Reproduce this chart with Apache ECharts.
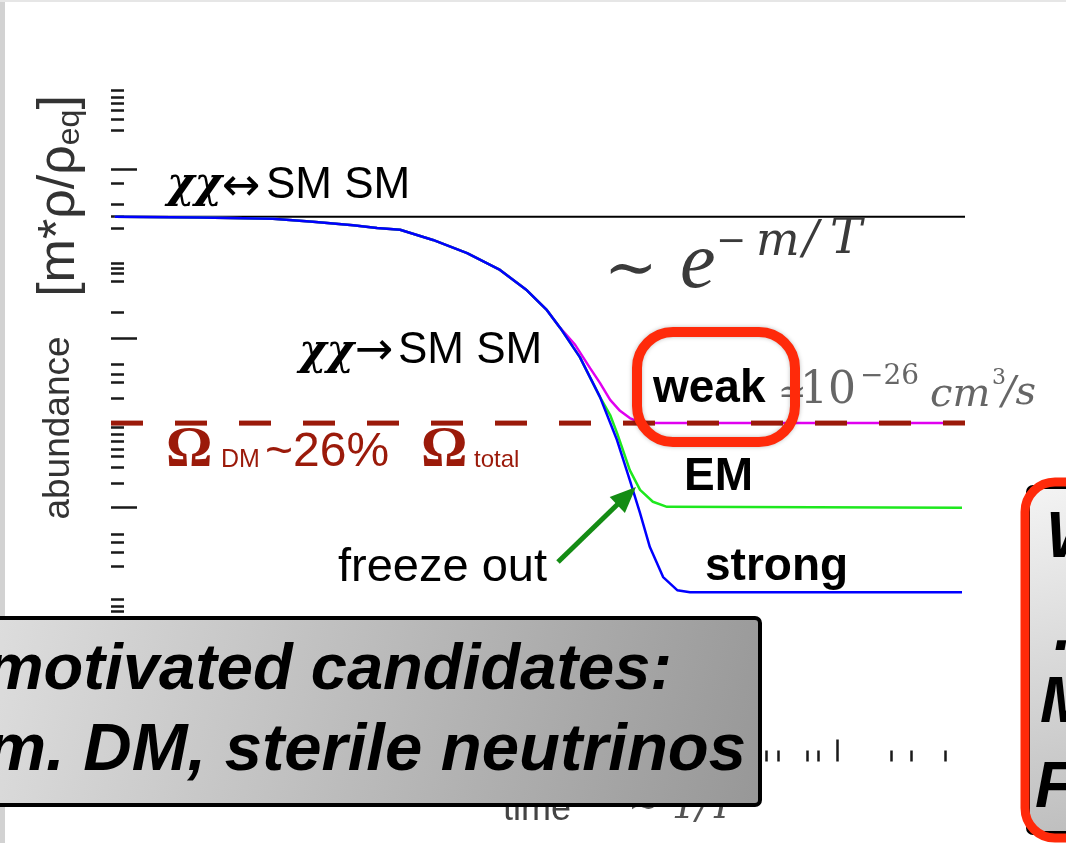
<!DOCTYPE html>
<html>
<head>
<meta charset="utf-8">
<script src="https://cdn.jsdelivr.net/npm/echarts@6/dist/echarts.min.js"></script>
<style>
  html, body { margin: 0; padding: 0; background: #fff; }
  #chart { width: 1066px; height: 843px; }
</style>
</head>
<body>
<div id="chart"></div>
<script>
// Freeze-out of a thermal relic: abundance (log10) versus time (~1/T)

// equilibrium abundance (xx <-> SM SM)
const eqTime = [0.1, 20.0];
const eqAbund = [-5.12, -5.12];

// observed dark matter level
const omegaTime = [0, 20.0];
const omegaAbund = [-10.0, -10.0];

// strong coupling
const strongTime = [0.09, 2.08, 3.79, 4.73, 5.67, 6.23, 6.77, 7.54, 8.34, 9.11, 9.74, 10.21, 10.52, 10.98, 11.45, 11.85, 12.15, 12.39, 12.62, 12.93, 13.26, 13.56, 19.93];
const strongAbund = [-5.12, -5.14, -5.17, -5.24, -5.32, -5.39, -5.43, -5.67, -5.98, -6.38, -6.86, -7.33, -7.75, -8.44, -9.38, -10.40, -11.35, -12.13, -12.93, -13.64, -13.95, -14.0, -14.0];

// electromagnetic coupling
const emTime = [0.09, 2.08, 3.79, 4.73, 5.67, 6.23, 6.77, 7.54, 8.34, 9.11, 9.74, 10.21, 10.52, 10.98, 11.45, 11.69, 11.85, 11.99, 12.15, 12.39, 12.69, 13.02, 19.93];
const emAbund = [-5.12, -5.14, -5.17, -5.24, -5.32, -5.39, -5.43, -5.67, -5.98, -6.38, -6.86, -7.33, -7.75, -8.44, -9.38, -9.81, -10.23, -10.64, -11.11, -11.58, -11.86, -11.98, -12.0];

// weak coupling
const weakTime = [0.09, 2.08, 3.79, 4.73, 5.67, 6.23, 6.77, 7.54, 8.34, 9.11, 9.74, 10.21, 10.52, 10.87, 11.22, 11.45, 11.69, 11.92, 12.15, 12.39, 12.62, 19.93];
const weakAbund = [-5.12, -5.14, -5.17, -5.24, -5.32, -5.39, -5.43, -5.67, -5.98, -6.38, -6.86, -7.33, -7.75, -8.15, -8.70, -9.05, -9.45, -9.71, -9.88, -9.99, -10.0, -10.0];

// axis tick positions
const yMinorTicks = [-2.14, -2.30, -2.43, -2.61, -2.82, -3.07, -4.32, -4.82, -5.10, -5.39, -6.21, -6.33, -6.46, -6.65, -7.39, -8.60, -8.84, -9.04, -9.41, -10.10, -10.26, -10.42, -10.61, -10.79, -11.05, -11.42, -12.62, -12.82, -13.06, -13.38, -14.17, -14.32, -14.44];
const yMajorTicks = [-4, -8, -12];
const xMinorTicks = [15.34, 15.62, 16.30, 16.56, 18.27, 18.74, 19.53];
const xMajorTicks = [17.0];

const zip = (a, b) => a.map((v, i) => [v, b[i]]);

const SANS = '"Liberation Sans", Arial, Helvetica, sans-serif';
const SERIF = '"Liberation Serif", "Times New Roman", serif';
const TEX = '"DejaVu Serif", serif';
const SYM = '"DejaVu Sans", sans-serif';
const DARKRED = '#9b1a0a';
const RED = '#ff2a0a';

function txt(x, y, text, font, fill, extra) {
  return Object.assign({
    type: 'text', x: x, y: y, z: 50,
    style: { text: text, font: font, fill: fill || '#000', align: 'left', verticalAlign: 'middle' }
  }, extra || {});
}

function tickAxis(kind, values, len) {
  return {
    type: 'value', min: kind === 'x' ? 0 : -18, max: kind === 'x' ? 20 : -2,
    position: kind === 'x' ? 'bottom' : 'left', offset: 0,
    axisLine: { show: false }, splitLine: { show: false }, axisLabel: { show: false },
    axisTick: { show: true, inside: true, length: len, customValues: values,
      lineStyle: { color: '#1a1a1a', width: 2.5 } }
  };
}

const chart = echarts.init(document.getElementById('chart'), null, { renderer: 'canvas' });

const graphic = [
  // slide edges
  { type: 'rect', shape: { x: 0, y: 0, width: 5, height: 843 }, style: { fill: '#d2d2d2' }, z: 90 },
  { type: 'rect', shape: { x: 0, y: 0, width: 1066, height: 2 }, style: { fill: '#e6e6e6' }, z: 90 },

  // y-axis title
  { type: 'text', x: 59, y: 428, rotation: Math.PI / 2, z: 50,
    style: { text: 'abundance', font: '37px ' + SANS, fill: '#333', align: 'center', verticalAlign: 'middle' } },
  { type: 'text', x: 60, y: 196, rotation: Math.PI / 2, z: 50,
    style: { text: '[m*ρ/ρ{sub|eq}]', font: '52px ' + SANS, fill: '#333', align: 'center', verticalAlign: 'middle',
      rich: { sub: { fontSize: 32, fontFamily: 'Liberation Sans', fill: '#333', verticalAlign: 'bottom', lineHeight: 52 } } } },

  // x-axis title (partly hidden)
  txt(503, 810, 'time', '36px ' + SANS, '#444', { z: 10 }),
  txt(628, 808, '∼ 1/T', 'italic 38px ' + TEX, '#555', { z: 10 }),

  // equilibrium process
  txt(167, 186, 'χχ', 'bold italic 42px ' + TEX, '#000'),
  txt(222, 188, '↔', '46px ' + SYM, '#000'),
  txt(266, 186, 'SM SM', '44px ' + SANS, '#000'),

  // annihilation process
  txt(299, 353, 'χχ', 'bold italic 42px ' + TEX, '#000'),
  txt(355, 352, '→', '46px ' + SYM, '#000'),
  txt(398, 351, 'SM SM', '44px ' + SANS, '#000'),

  // Boltzmann suppression ~ e^{-m/T}
  txt(604, 272, '∼', '64px ' + TEX, '#3a3a3a'),
  txt(680, 266, 'e', 'italic 80px ' + SERIF, '#3a3a3a'),
  txt(716, 243, '−', '36px ' + TEX, '#3a3a3a'),
  txt(756, 243, 'm', 'italic 46px ' + TEX, '#3a3a3a'),
  txt(803, 241, '/', 'italic 46px ' + TEX, '#3a3a3a'),
  txt(830, 241, 'T', 'italic 48px ' + TEX, '#3a3a3a'),

  // coupling labels
  txt(653, 389, 'weak', 'bold 46px ' + SANS, '#000'),
  txt(778, 394, '≃', '34px ' + TEX, '#666'),
  txt(800, 392, '10', '44px ' + TEX, '#666'),
  txt(860, 377, '−26', '28px ' + TEX, '#666'),
  txt(930, 396, 'cm', 'italic 40px ' + TEX, '#666'),
  txt(992, 378, '3', '22px ' + TEX, '#666'),
  txt(1002, 394, '/s', 'italic 40px ' + TEX, '#666'),
  txt(684, 477, 'EM', 'bold 46px ' + SANS, '#000'),
  txt(705, 567, 'strong', 'bold 46px ' + SANS, '#000'),
  txt(338, 568, 'freeze out', '47px ' + SANS, '#000'),

  // Omega_DM label
  txt(166, 451, 'Ω', 'bold 58px ' + SERIF, DARKRED),
  txt(221, 460, 'DM', '25px ' + SANS, DARKRED),
  txt(265, 453, '~26%', '48px ' + SANS, DARKRED),
  txt(421, 451, 'Ω', 'bold 58px ' + SERIF, DARKRED),
  txt(474, 460, 'total', '24px ' + SANS, DARKRED),

  // freeze-out arrow
  { type: 'line', shape: { x1: 558, y1: 562, x2: 621, y2: 501 }, style: { stroke: '#148c14', lineWidth: 5 }, z: 60 },
  { type: 'polygon', shape: { points: [[636, 487], [609.7, 497.1], [624.9, 512.9]] }, style: { fill: '#148c14' }, z: 60 },

  // red highlight around "weak"
  { type: 'rect', shape: { x: 637, y: 332, width: 158, height: 110, r: 36 },
    style: { fill: null, stroke: RED, lineWidth: 10, shadowBlur: 4, shadowColor: 'rgba(0,0,0,0.25)' }, z: 70 },

  // gray box, bottom left
  { type: 'rect', shape: { x: -12, y: 618, width: 772, height: 187, r: 5 }, z: 100,
    style: { fill: new echarts.graphic.LinearGradient(0, 0, 1, 1, [
      { offset: 0, color: '#dedede' }, { offset: 1, color: '#979797' } ]),
      stroke: '#000', lineWidth: 4 } },
  { type: 'text', x: 672, y: 671, z: 101,
    style: { text: 'motivated candidates:', font: 'bold italic 65px ' + SANS, fill: '#000', align: 'right', verticalAlign: 'middle' } },
  { type: 'text', x: 746, y: 752, z: 101,
    style: { text: 'm. DM, sterile neutrinos', font: 'bold italic 67px ' + SANS, fill: '#000', align: 'right', verticalAlign: 'middle' } },

  // box at the right edge
  { type: 'rect', shape: { x: 1028, y: 487, width: 80, height: 346, r: 5 }, z: 100,
    style: { fill: new echarts.graphic.LinearGradient(0, 0, 1, 1, [
      { offset: 0, color: '#f4f4f4' }, { offset: 1, color: '#bdbdbd' } ]),
      stroke: '#000', lineWidth: 4 } },
  { type: 'rect', shape: { x: 1025, y: 482, width: 90, height: 356, r: 30 }, z: 102,
    style: { fill: null, stroke: RED, lineWidth: 9 } },
  { type: 'text', x: 1046, y: 539, z: 101, style: { text: 'W', font: 'bold italic 64px ' + SANS, fill: '#000', verticalAlign: 'middle' } },
  { type: 'text', x: 1054, y: 632, z: 101, style: { text: '.', font: 'bold italic 64px ' + SANS, fill: '#000', verticalAlign: 'middle' } },
  { type: 'text', x: 1040, y: 704, z: 101, style: { text: 'M', font: 'bold italic 64px ' + SANS, fill: '#000', verticalAlign: 'middle' } },
  { type: 'text', x: 1035, y: 789, z: 101, style: { text: 'F', font: 'bold italic 64px ' + SANS, fill: '#000', verticalAlign: 'middle' } }
];

const curve = { type: 'line', symbol: 'none' };

const option = {
  animation: false,
  backgroundColor: '#ffffff',
  grid: { left: 111, right: 101, top: 84.7, bottom: 81.5 },
  xAxis: [tickAxis('x', xMinorTicks, 11), tickAxis('x', xMajorTicks, 22)],
  yAxis: [tickAxis('y', yMinorTicks, 13), tickAxis('y', yMajorTicks, 26)],
  series: [
    { name: 'equilibrium', type: 'line', data: zip(eqTime, eqAbund), symbol: 'none',
      lineStyle: { color: '#000', width: 2 }, z: 2 },
    Object.assign({ name: 'weak', data: zip(weakTime, weakAbund),
      lineStyle: { color: '#e000f0', width: 2.5 }, z: 3 }, curve),
    { name: 'Omega DM', type: 'line', data: zip(omegaTime, omegaAbund), symbol: 'none',
      lineStyle: { color: DARKRED, width: 5, type: [32, 32] }, z: 4 },
    Object.assign({ name: 'EM', data: zip(emTime, emAbund),
      lineStyle: { color: '#1ee81e', width: 2.5 }, z: 5 }, curve),
    Object.assign({ name: 'strong', data: zip(strongTime, strongAbund),
      lineStyle: { color: '#0000ff', width: 2.5 }, z: 6 }, curve)
  ],
  graphic: graphic
};

chart.setOption(option);
</script>
</body>
</html>
